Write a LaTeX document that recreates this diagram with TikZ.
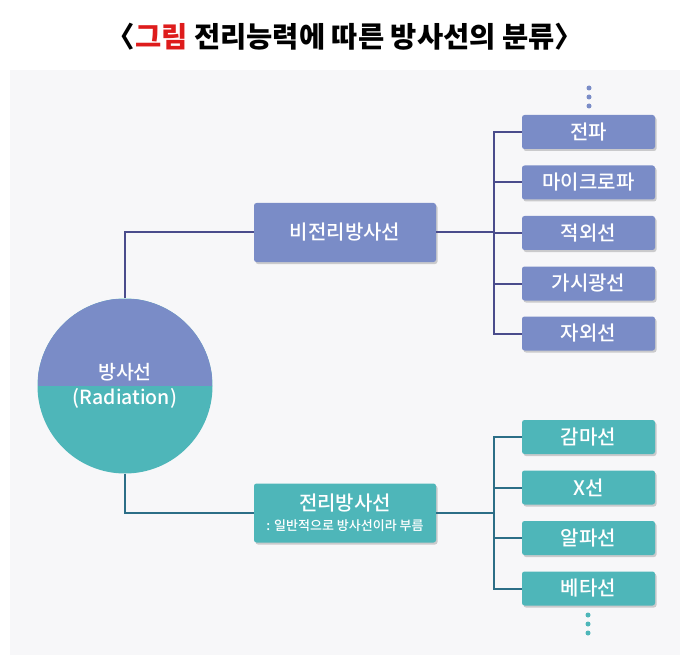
\documentclass[tikz,border=0pt]{standalone}
\usepackage{fontspec}
\setmainfont{Noto Sans CJK KR}
\newfontfamily\krmed{Noto Sans CJK KR Medium}
\usepackage{tikz}
\usetikzlibrary{shadows}

\definecolor{nonblue}{RGB}{122,140,199}
\definecolor{ionteal}{RGB}{78,182,185}
\definecolor{nonline}{RGB}{74,76,140}
\definecolor{ionline}{RGB}{44,110,135}
\definecolor{panel}{RGB}{247,247,249}
\definecolor{titlered}{RGB}{222,28,28}

\begin{document}
\begin{tikzpicture}[x=1pt,y=-1pt,
  boxshadow/.style={drop shadow={shadow xshift=1.5pt,shadow yshift=-2pt,opacity=0.18,fill=black}},
  midbox/.style={rectangle,rounded corners=2.5pt,minimum width=182pt,minimum height=59pt,
     inner sep=0pt,text=white,align=center,font=\krmed\fontsize{20}{22}\selectfont,boxshadow},
  leafbox/.style={rectangle,rounded corners=2.5pt,minimum width=133pt,minimum height=34pt,
     inner sep=0pt,text=white,font=\krmed\fontsize{20}{22}\selectfont,boxshadow},
  nonline/.style={draw=nonline,line width=2pt},
  ionline/.style={draw=ionline,line width=2pt},
  dot/.style={circle,inner sep=0pt,minimum size=5pt}]
\useasboundingbox (0,0) rectangle (690,668);

%%% title and panel %%%
  \node (title) at (345,37) [font=\fontsize{28.5}{32}\selectfont\bfseries]
    {〈\textcolor{titlered}{그림} 전리능력에 따른 방사선의 분류〉};
  \fill[panel] (10,70) rectangle (680,655);

%%% radiation circle %%%
  \node (rad) at (125,386) [circle,minimum size=175pt,inner sep=0pt,fill=ionteal,
     path picture={\fill[nonblue] (path picture bounding box.north west) rectangle (path picture bounding box.east);},
     text=white,align=center,font=\krmed\fontsize{19.5}{25}\selectfont] {방사선\\(Radiation)};

%%% middle boxes %%%
  \node (nonion) at (345,232.5) [midbox,fill=nonblue] {비전리방사선};
  \node (ion) at (345,513) [midbox,fill=ionteal]
    {전리방사선\\[-2pt]{\fontsize{13}{14}\selectfont : 일반적으로 방사선이라 부름}};

%%% non-ionising leaves %%%
  \node (radio) at (588.5,132) [leafbox,fill=nonblue] {전파};
  \node (micro) at (588.5,182.5) [leafbox,fill=nonblue] {마이크로파};
  \node (infra) at (588.5,233) [leafbox,fill=nonblue] {적외선};
  \node (visible) at (588.5,283.5) [leafbox,fill=nonblue] {가시광선};
  \node (uv) at (588.5,333.5) [leafbox,fill=nonblue] {자외선};

%%% ionising leaves %%%
  \node (gamma) at (588.5,437) [leafbox,fill=ionteal] {감마선};
  \node (xray) at (588.5,487.5) [leafbox,fill=ionteal] {X선};
  \node (alpha) at (588.5,538) [leafbox,fill=ionteal] {알파선};
  \node (beta) at (588.5,588.5) [leafbox,fill=ionteal] {베타선};

  \coordinate (ntrunk) at (494,232.5);
  \coordinate (itrunk) at (494,513);

%%% connectors %%%
\draw[nonline] (rad.north) |- (nonion.west);
\draw[ionline] (rad.south) |- (ion.west);
\draw[nonline] (nonion.east) -- (ntrunk);
\draw[ionline] (ion.east) -- (itrunk);
\foreach \leaf in {radio,micro,infra,visible,uv}
  \draw[nonline] (\leaf.west) -| (ntrunk);
\foreach \leaf in {gamma,xray,alpha,beta}
  \draw[ionline] (\leaf.west) -| (itrunk);

%%% dots %%%
\foreach \y [count=\i] in {88,97,106}
  \node (ndot\i) at (589,\y) [dot,fill=nonblue] {};
\foreach \y [count=\i] in {615,624,633}
  \node (idot\i) at (588,\y) [dot,fill=ionteal] {};
\end{tikzpicture}
\end{document}
